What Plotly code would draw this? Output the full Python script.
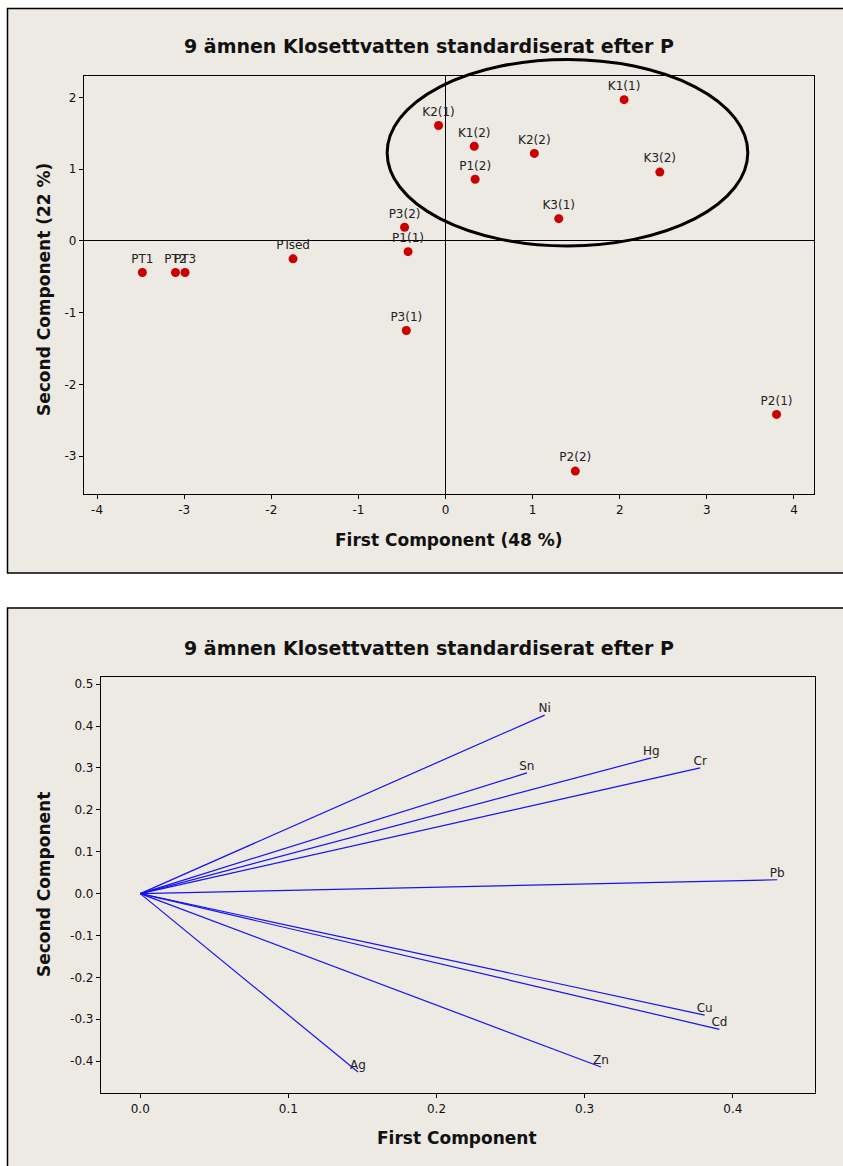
import plotly.graph_objects as go

W, H = 843, 1166

# ---------------- data: score plot ----------------
score_labels = ["PT1", "PT2", "PT3", "PTsed", "P3(2)", "P1(1)", "P3(1)", "K2(1)", "K1(2)",
                "P1(2)", "K2(2)", "K1(1)", "K3(2)", "K3(1)", "P2(1)", "P2(2)"]
score_pc1 = [-3.48, -3.10, -2.99, -1.75, -0.47, -0.43, -0.45, -0.08, 0.33,
             0.34, 1.02, 2.05, 2.46, 1.30, 3.80, 1.49]
score_pc2 = [-0.44, -0.44, -0.44, -0.25, 0.19, -0.15, -1.25, 1.61, 1.32,
             0.86, 1.22, 1.97, 0.96, 0.31, -2.42, -3.21]
score_xticks = [-4, -3, -2, -1, 0, 1, 2, 3, 4]
score_xticktext = ["-4", "-3", "-2", "-1", "0", "1", "2", "3", "4"]
score_yticks = [-3, -2, -1, 0, 1, 2]
score_yticktext = ["-3", "-2", "-1", "0", "1", "2"]

# ellipse highlighting the K group (data coordinates)
ell_cx, ell_cy, ell_rx, ell_ry = 1.40, 1.23, 2.07, 1.30

# ---------------- data: loading plot ----------------
load_vars = ["Ni", "Sn", "Hg", "Cr", "Pb", "Cu", "Cd", "Zn", "Ag"]
load_pc1 = [0.273, 0.261, 0.345, 0.378, 0.430, 0.381, 0.391, 0.311, 0.147]
load_pc2 = [0.426, 0.288, 0.324, 0.300, 0.033, -0.290, -0.324, -0.414, -0.426]
load_xticks = [0.0, 0.1, 0.2, 0.3, 0.4]
load_xticktext = ["0.0", "0.1", "0.2", "0.3", "0.4"]
load_yticks = [0.5, 0.4, 0.3, 0.2, 0.1, 0.0, -0.1, -0.2, -0.3, -0.4]
load_yticktext = ["0.5", "0.4", "0.3", "0.2", "0.1", "0.0", "-0.1", "-0.2", "-0.3", "-0.4"]

TITLE = "9 ämnen Klosettvatten standardiserat efter P"
TOP_XTITLE = "First Component (48 %)"
TOP_YTITLE = "Second Component (22 %)"
BOT_XTITLE = "First Component"
BOT_YTITLE = "Second Component"

# ---------------- layout geometry (page pixels) ----------------
def px_x(p):
    return p / W

def px_y(p):
    return 1 - p / H

top_dom_x = [px_x(84), px_x(814)]
top_dom_y = [px_y(494), px_y(76)]
bot_dom_x = [px_x(101), px_x(815)]
bot_dom_y = [px_y(1093), px_y(677)]

top_xrange = [-4.15, 4.23]
top_yrange = [-3.53, 2.30]
bot_xrange = [-0.0265, 0.4555]
bot_yrange = [-0.476, 0.517]

BEIGE = "#EDE9E3"
FONT = "DejaVu Sans"
TXT = "#111111"
TICKFONT = dict(family=FONT, size=12, color=TXT)

fig = go.Figure()

# score plot
fig.add_trace(go.Scatter(
    x=score_pc1, y=score_pc2, mode="markers+text",
    text=score_labels, textposition="top center",
    textfont=dict(family=FONT, size=12, color="#222222"),
    marker=dict(symbol="circle", size=9, color="#CC0000"),
    xaxis="x", yaxis="y", showlegend=False, cliponaxis=False,
))

# loading plot lines
for name, a, b in zip(load_vars, load_pc1, load_pc2):
    fig.add_trace(go.Scatter(
        x=[0, a], y=[0, b], mode="lines",
        line=dict(color="#1414F0", width=1.2),
        xaxis="x2", yaxis="y2", showlegend=False,
    ))
fig.add_trace(go.Scatter(
    x=load_pc1, y=load_pc2, mode="text",
    text=load_vars, textposition="top center",
    textfont=dict(family=FONT, size=12, color="#222222"),
    xaxis="x2", yaxis="y2", showlegend=False, cliponaxis=False,
))

axis_common = dict(
    showgrid=False, showline=True, linecolor="black", linewidth=1.2, mirror=True,
    ticks="outside", ticklen=4, tickcolor="black", tickfont=TICKFONT,
)

fig.update_layout(
    width=W, height=H,
    margin=dict(l=0, r=0, t=0, b=0),
    paper_bgcolor="white", plot_bgcolor="white",
    xaxis=dict(domain=top_dom_x, range=top_xrange, anchor="y",
               tickvals=score_xticks, ticktext=score_xticktext,
               zeroline=True, zerolinecolor="black", zerolinewidth=1,
               **axis_common),
    yaxis=dict(domain=top_dom_y, range=top_yrange, anchor="x",
               tickvals=score_yticks, ticktext=score_yticktext,
               zeroline=True, zerolinecolor="black", zerolinewidth=1,
               **axis_common),
    xaxis2=dict(domain=bot_dom_x, range=bot_xrange, anchor="y2",
                tickvals=load_xticks, ticktext=load_xticktext, zeroline=False,
                **axis_common),
    yaxis2=dict(domain=bot_dom_y, range=bot_yrange, anchor="x2",
                tickvals=load_yticks, ticktext=load_yticktext, zeroline=False,
                **axis_common),
)

# panels
fig.add_shape(type="rect", xref="paper", yref="paper",
              x0=px_x(7.5), x1=px_x(870), y0=px_y(573), y1=px_y(8.5),
              fillcolor=BEIGE, line=dict(color="black", width=1.5), layer="below")
fig.add_shape(type="rect", xref="paper", yref="paper",
              x0=px_x(7.5), x1=px_x(870), y0=px_y(1200), y1=px_y(608),
              fillcolor=BEIGE, line=dict(color="black", width=1.5), layer="below")

def label(text, x, y, size, angle=0):
    fig.add_annotation(text="<b>" + text + "</b>", xref="paper", yref="paper",
                       x=px_x(x), y=px_y(y), showarrow=False, textangle=angle,
                       xanchor="center", yanchor="middle",
                       font=dict(family=FONT, size=size, color=TXT))

# titles
label(TITLE, 429, 46, 19)
label(TITLE, 429, 648, 19)
# axis titles
label(TOP_XTITLE, 449, 540, 17)
label(TOP_YTITLE, 44, 290, 17, -90)
label(BOT_XTITLE, 457, 1138, 17)
label(BOT_YTITLE, 44, 885, 17, -90)

# ellipse (converted from data coordinates to paper so it can extend past the plot area)
def dx_to_paper(v):
    return top_dom_x[0] + (v - top_xrange[0]) / (top_xrange[1] - top_xrange[0]) * (top_dom_x[1] - top_dom_x[0])

def dy_to_paper(v):
    return top_dom_y[0] + (v - top_yrange[0]) / (top_yrange[1] - top_yrange[0]) * (top_dom_y[1] - top_dom_y[0])

fig.add_shape(type="circle", xref="paper", yref="paper",
              x0=dx_to_paper(ell_cx - ell_rx), x1=dx_to_paper(ell_cx + ell_rx),
              y0=dy_to_paper(ell_cy - ell_ry), y1=dy_to_paper(ell_cy + ell_ry),
              line=dict(color="black", width=3), layer="above")

fig.write_html(
    "out.html",
    config={"displayModeBar": False},
    post_script="document.body.style.margin='0';document.body.style.overflow='hidden';",
)
